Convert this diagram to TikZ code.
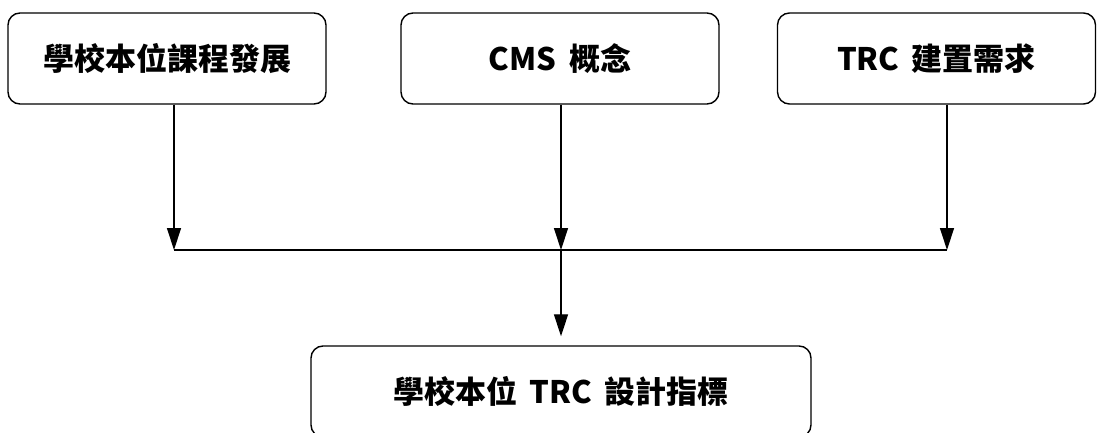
\documentclass[tikz,border=0pt]{standalone}
\usepackage{fontspec}
\setmainfont{Noto Sans CJK TC}
\usetikzlibrary{arrows.meta}

\tikzset{
  Box/.style = {draw, line width=1.4pt, rounded corners=12pt, minimum width=318pt,
    minimum height=91pt, inner sep=0pt, font=\fontsize{31}{36}\selectfont\bfseries},
  Flow/.style = {line width=1.3pt, -{Triangle[length=22pt,width=14pt]}},
}

\begin{document}
\begin{tikzpicture}[x=1pt,y=1pt]
    \clip (0,0) rectangle (1097,-433);

    % Boxes
    \node[Box] (school) at (167,-58.5) {學校本位課程發展};
    \node[Box] (cms) at (560,-58.5) {CMS\hspace{0.4em}概念};
    \node[Box] (need) at (936.5,-58.5) {TRC\hspace{0.4em}建置需求};
    \node[Box, minimum width=500pt] (index) at (561,-391.5) {學校本位\hspace{0.4em}TRC\hspace{0.4em}設計指標};

    % Junction
    \coordinate (jl) at (174,-250);
    \coordinate (jm) at (561,-250);
    \coordinate (jr) at (947,-250);

    % Arrows
    \draw[Flow] (school.south -| jl) -- (jl);
    \draw[Flow] (cms.south -| jm) -- (jm);
    \draw[Flow] (need.south -| jr) -- (jr);
    \draw[line width=1.8pt] (jl) -- (jr);
    \draw[Flow, shorten >=9pt] (jm) -- (index.north);

\end{tikzpicture}
\end{document}
